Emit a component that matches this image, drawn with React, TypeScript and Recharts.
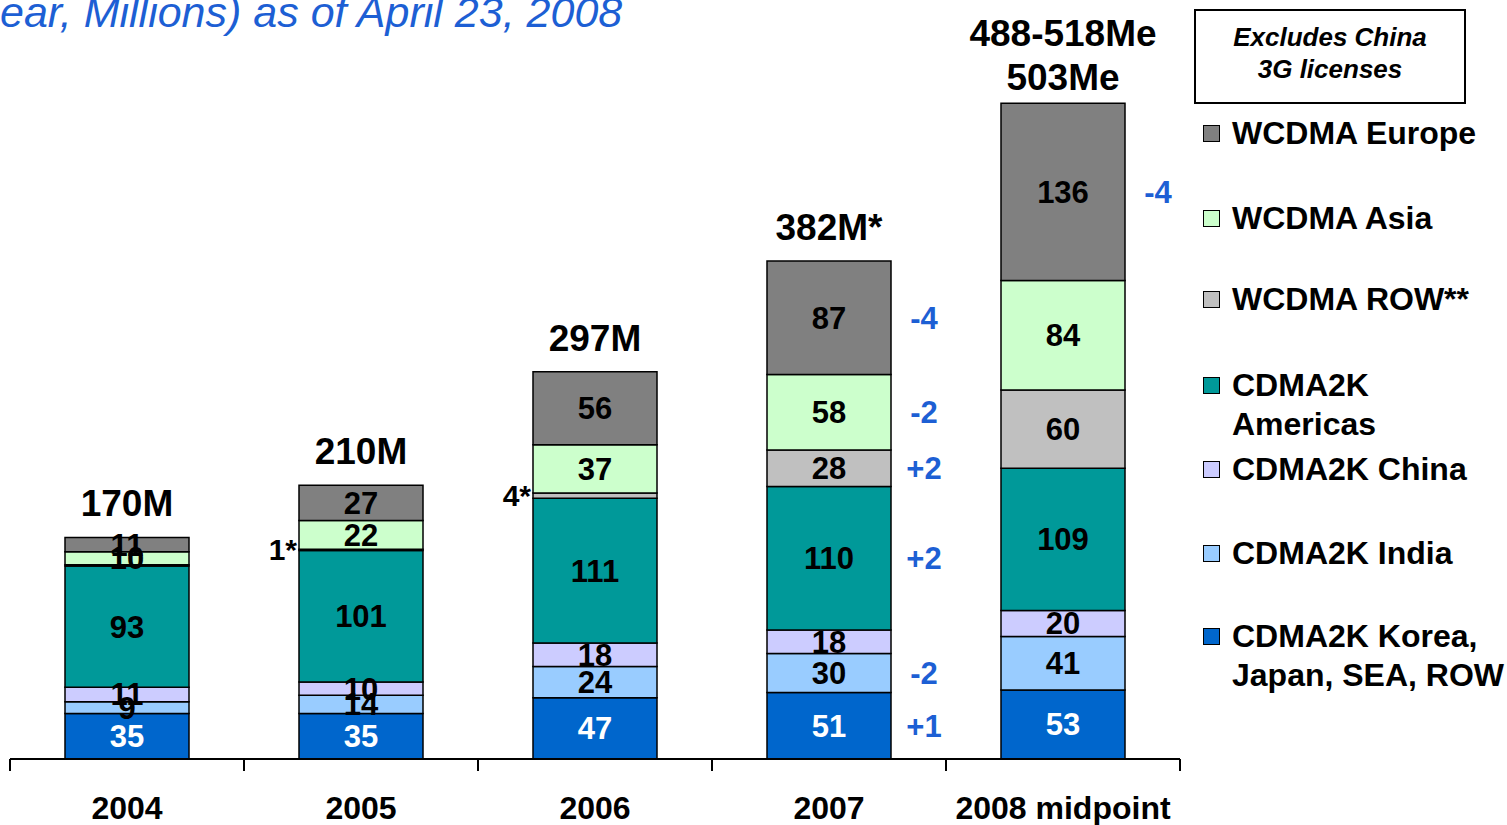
import { Bar, BarChart, LabelList, XAxis, YAxis } from 'recharts';

const FONT = '"Liberation Sans", Arial, sans-serif';
const BLUE_TEXT = '#1d5fd4';

const years = ['2004', '2005', '2006', '2007', '2008 midpoint'];
const korea = [35, 35, 47, 51, 53];
const india = [9, 14, 24, 30, 41];
const china = [11, 10, 18, 18, 20];
const americas = [93, 101, 111, 110, 109];
const wcdmaRow = [1, 1, 4, 28, 60];
const wcdmaAsia = [10, 22, 37, 58, 84];
const wcdmaEurope = [11, 27, 56, 87, 136];
const totals = ['170M', '210M', '297M', '382M*', '488-518Me\n503Me'];

// change vs. prior estimate, shown in blue to the right of a segment
const koreaChange = ['', '', '', '+1', ''];
const indiaChange = ['', '', '', '-2', ''];
const americasChange = ['', '', '', '+2', ''];
const rowChange = ['', '', '', '+2', ''];
const asiaChange = ['', '', '', '-2', ''];
const europeChange = ['', '', '', '-4', '-4'];
const rowNote = ['', '1*', '4*', '', ''];

const series = [
  { key: 'korea', name: 'CDMA2K Korea,\nJapan, SEA, ROW', color: '#0066cc', text: '#fff', values: korea, change: koreaChange },
  { key: 'india', name: 'CDMA2K India', color: '#99ccff', text: '#000', values: india, change: indiaChange },
  { key: 'china', name: 'CDMA2K China', color: '#ccccff', text: '#000', values: china, change: null },
  { key: 'americas', name: 'CDMA2K\nAmericas', color: '#009999', text: '#000', values: americas, change: americasChange },
  { key: 'row', name: 'WCDMA ROW**', color: '#c0c0c0', text: '#000', values: wcdmaRow, change: rowChange },
  { key: 'asia', name: 'WCDMA Asia', color: '#ccffcc', text: '#000', values: wcdmaAsia, change: asiaChange },
  { key: 'europe', name: 'WCDMA Europe', color: '#808080', text: '#000', values: wcdmaEurope, change: europeChange },
];

const data = years.map((year, i) => {
  const row: Record<string, string | number> = { year, total: totals[i], note: rowNote[i] };
  series.forEach((s) => {
    row[s.key] = s.values[i];
    row[s.key + 'Chg'] = s.change ? s.change[i] : '';
  });
  return row;
});

// legend rows, top to bottom, with their vertical centre
const legendRows = [
  { key: 'europe', top: 134 },
  { key: 'asia', top: 219 },
  { key: 'row', top: 300 },
  { key: 'americas', top: 386 },
  { key: 'china', top: 470 },
  { key: 'india', top: 554 },
  { key: 'korea', top: 637 },
];

function InsideLabel(color: string) {
  return (props: any) => {
    const { x, y, width, height, value } = props;
    if (!value || value < 5) return null;
    return (
      <text x={x + width / 2} y={y + height / 2 + 11} textAnchor="middle" fill={color}
        fontFamily={FONT} fontWeight="bold" fontSize={31}>
        {value}
      </text>
    );
  };
}

const ChangeLabel = (props: any) => {
  const { x, y, width, height, value } = props;
  if (!value) return null;
  return (
    <text x={x + width + 33} y={y + height / 2 + 11} textAnchor="middle" fill={BLUE_TEXT}
      fontFamily={FONT} fontWeight="bold" fontSize={31}>
      {value}
    </text>
  );
};

const NoteLabel = (props: any) => {
  const { x, y, height, value } = props;
  if (!value) return null;
  return (
    <text x={x - 2} y={y + height / 2 + 10} textAnchor="end" fill="#000"
      fontFamily={FONT} fontWeight="bold" fontSize={30}>
      {value}
    </text>
  );
};

const TotalLabel = (props: any) => {
  const { x, y, width, value } = props;
  if (!value) return null;
  const lines = String(value).split('\n');
  return (
    <g>
      {lines.map((line, i) => (
        <text key={i} x={x + width / 2}
          y={lines.length > 1 ? y - 13 - (lines.length - 1 - i) * 44 : y - 21}
          textAnchor="middle" fill="#000" fontFamily={FONT} fontWeight="bold" fontSize={37}>
          {line}
        </text>
      ))}
    </g>
  );
};

const YearTick = (props: any) => {
  const { x, y, payload, index } = props;
  const half = 117;
  return (
    <g>
      <line x1={x - half} y1={y} x2={x - half} y2={y + 12} stroke="#000" strokeWidth={2} />
      {index === years.length - 1 && (
        <line x1={x + half} y1={y} x2={x + half} y2={y + 12} stroke="#000" strokeWidth={2} />
      )}
      <text x={x} y={y + 60} textAnchor="middle" fill="#000" fontFamily={FONT}
        fontWeight="bold" fontSize={32}>
        {payload.value}
      </text>
    </g>
  );
};

export default function App() {
  return (
    <div style={{ position: 'absolute', left: 0, top: 0, width: 1507, height: 825, background: '#fff', overflow: 'hidden' }}>
      <div style={{
        position: 'absolute', left: 0, top: -12, fontFamily: FONT, fontStyle: 'italic',
        fontSize: 43, color: BLUE_TEXT, whiteSpace: 'nowrap',
      }}>
        ear, Millions) as of April 23, 2008
      </div>
      <BarChart width={1507} height={825} data={data} barCategoryGap={55}
        margin={{ top: 29, right: 327, bottom: 0, left: 10 }}>
        <XAxis dataKey="year" height={66} tickLine={false} tickSize={0} tickMargin={0}
          axisLine={{ stroke: '#000', strokeWidth: 2 }} tick={<YearTick />} interval={0} />
        <YAxis hide domain={[0, 560]} allowDataOverflow />
        {series.map((s) => (
          <Bar key={s.key} dataKey={s.key} stackId="a" fill={s.color} stroke="#000"
            strokeWidth={1.5} isAnimationActive={false}>
            <LabelList dataKey={s.key} content={InsideLabel(s.text)} />
            <LabelList dataKey={s.key + 'Chg'} content={ChangeLabel} />
            {s.key === 'row' && <LabelList dataKey="note" content={NoteLabel} />}
            {s.key === 'europe' && <LabelList dataKey="total" content={TotalLabel} />}
          </Bar>
        ))}
      </BarChart>
      <div style={{
        position: 'absolute', left: 1194, top: 9, width: 268, height: 81, border: '2px solid #000',
        fontFamily: FONT, fontStyle: 'italic', fontWeight: 'bold', fontSize: 26, lineHeight: '32px',
        textAlign: 'center', paddingTop: 10, boxSizing: 'content-box',
      }}>
        <div>Excludes China</div>
        <div>3G licenses</div>
      </div>
      {legendRows.map((r) => {
        const s = series.find((x) => x.key === r.key)!;
        return (
          <div key={r.key} style={{ position: 'absolute', left: 1203, top: r.top - 20, fontFamily: FONT }}>
            <div style={{
              position: 'absolute', left: 0, top: 11, width: 15, height: 15,
              background: s.color, border: '1.5px solid #000',
            }} />
            <div style={{
              position: 'absolute', left: 29, top: 0, fontWeight: 'bold', fontSize: 32,
              lineHeight: '39px', whiteSpace: 'pre', color: '#000',
            }}>
              {s.name}
            </div>
          </div>
        );
      })}
    </div>
  );
}
